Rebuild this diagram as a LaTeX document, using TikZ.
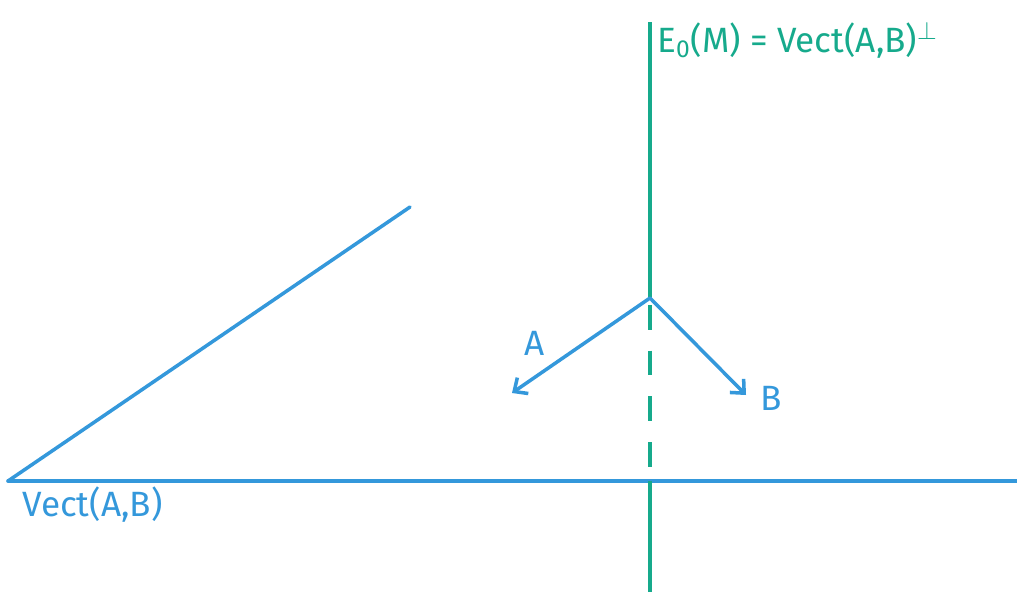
\documentclass[tikz,border=0pt]{standalone}
\usepackage{amsmath}
\usepackage{amssymb}
\usepackage{fontspec}
\setsansfont{Fira Sans}
\usetikzlibrary{positioning,arrows.meta}
\definecolor{VecBlue}{HTML}{3498DB}
\definecolor{OrthGreen}{HTML}{16AA8C}

\begin{document}
\begin{tikzpicture}[x=0.02cm,y=-0.02cm,>={Straight Barb[length=6pt,width=11pt]}]
  \tikzstyle{bline}=[color=VecBlue,line width=2pt,line cap=round]
  \tikzstyle{gline}=[color=OrthGreen,line width=2pt]
  \tikzstyle{hlabel}=[inner sep=0pt,font=\sffamily\fontsize{20}{24}\selectfont]
  \useasboundingbox (0,0) rectangle (1017,592);
  \coordinate (o) at (8,481);
  \coordinate (e) at (1017,481);
  \coordinate (t) at (410,207);
  \coordinate (top) at (650,22);
  \coordinate (m) at (650,298);
  \coordinate (h) at (650,481);
  \coordinate (bot) at (650,592);
  \coordinate (a) at (512,393);
  \coordinate (b) at (746,395);
  \draw[bline] (o)--(e);
  \draw[bline] (o)--(t);
  \draw[gline] (top)--(m);
  \draw[gline,dash pattern=on 14pt off 12pt,dash phase=-4pt] (m)--(h);
  \draw[gline] (h)--(bot);
  \draw[bline,->] (m)--(a);
  \draw[bline,->] (m)--(b);
  \node[hlabel,text=VecBlue] (la) at (535,343) {A};
  \node[hlabel,text=VecBlue] (lb) at (771,398) {B};
  \node[hlabel,text=OrthGreen,anchor=west] (le) at (657,40) {E\textsubscript{0}(M) = Vect(A,B)$^{\perp}$};
  \node[hlabel,text=VecBlue,anchor=west] (lv) at (22,505) {Vect(A,B)};
\end{tikzpicture}
\end{document}
